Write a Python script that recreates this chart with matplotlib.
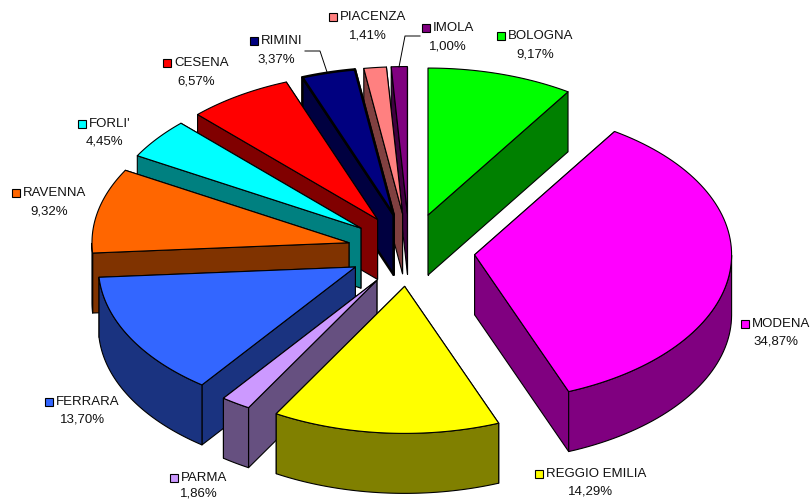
import numpy as np
import matplotlib
matplotlib.use("Agg")
import matplotlib.pyplot as plt
from matplotlib.patches import Polygon

names = ["BOLOGNA", "MODENA", "REGGIO EMILIA", "PARMA", "FERRARA", "RAVENNA",
         "FORLI'", "CESENA", "RIMINI", "PIACENZA", "IMOLA"]
values = [9.17, 34.87, 14.29, 1.86, 13.70, 9.32, 4.45, 6.57, 3.37, 1.41, 1.00]
top_colors = ["#00FF00", "#FF00FF", "#FFFF00", "#CC99FF", "#3366FF", "#FF6600",
              "#00FFFF", "#FF0000", "#000080", "#FF8080", "#800080"]
side_colors = ["#008000", "#800080", "#808000", "#665080", "#1A3380", "#803300",
               "#008080", "#800000", "#000040", "#804040", "#400040"]
# where each label goes (key left edge, text centre y)
label_x = [497, 741, 535, 170, 45, 12, 78, 163, 250, 329, 422]
label_y = [36, 324, 474, 478, 402, 193, 124, 63, 41, 17, 28]

cx, cy = 409.4, 251
rx, ry = 257, 147
depth = 60
explode = 0.255

plt.rcParams["font.family"] = ["Liberation Sans", "DejaVu Sans"]

fig = plt.figure(figsize=(8.10, 5.01), dpi=100)
ax = fig.add_axes([0, 0, 1, 1])
ax.set_xlim(0, 810)
ax.set_ylim(501, 0)
ax.axis("off")


def rim(t, x0, y0):
    return np.column_stack([x0 + rx * np.sin(t), y0 - ry * np.cos(t)])


def draw_wedge(start, end, top, side, lw):
    mid = (start + end) / 2
    x0 = cx + explode * rx * np.sin(mid)
    y0 = cy - explode * ry * np.cos(mid)
    # the original has a bit of perspective, left and front slices sit closer in
    if np.sin(mid) < 0:
        x0 += 3.5 * min(1, np.sin(mid) ** 2 * 4)
        if np.cos(mid) < 0:
            y0 -= 2
    ts = np.linspace(start, end, 80)
    arc = rim(ts, x0, y0)
    apex = np.array([x0, y0])
    down = np.array([0, depth])
    kw = dict(edgecolor="black", linewidth=lw, joinstyle="round")

    # radial walls, the one further back first
    faces = [arc[0], arc[-1]]
    faces.sort(key=lambda p: p[1])
    for p in faces:
        ax.add_patch(Polygon([apex, p, p + down, apex + down], facecolor=side, **kw))

    # outer wall only on the near half of the ellipse
    near = (ts >= np.pi / 2) & (ts <= 3 * np.pi / 2)
    if near.any():
        a = arc[near]
        ax.add_patch(Polygon(np.vstack([a, (a + down)[::-1]]), facecolor=side, **kw))

    ax.add_patch(Polygon(np.vstack([apex, arc]), facecolor=top, **kw))


bounds = np.cumsum([0] + values) / sum(values) * 2 * np.pi
order = sorted(range(len(values)), key=lambda i: -np.cos((bounds[i] + bounds[i + 1]) / 2))
for i in order:
    lw = 1.8 if names[i] == "RIMINI" else 0.8
    draw_wedge(bounds[i], bounds[i + 1], top_colors[i], side_colors[i], lw)

# leader lines
ax.plot([305, 320, 327], [51, 51, 72], color="black", lw=0.7)
ax.plot([420, 405, 399], [36, 36, 67], color="black", lw=0.7)

for i, name in enumerate(names):
    x, y = label_x[i], label_y[i]
    ax.add_patch(Polygon([(x, y - 4), (x + 8, y - 4), (x + 8, y + 4), (x, y + 4)],
                         facecolor=top_colors[i], edgecolor="black", linewidth=0.8))
    ax.text(x + 11, y, name, fontsize=9.5, va="center", ha="left", color="#111111")
    label = f"{values[i]:.2f}%".replace(".", ",")
    t = ax.text(0, 0, name, fontsize=9.5)
    w = t.get_window_extent(fig.canvas.get_renderer()).width
    t.remove()
    ax.text(x + (11 + w) / 2, min(y + 18, 494), label, fontsize=9.5, va="center",
            ha="center", color="#111111")

fig.savefig("out.png", dpi=100)
